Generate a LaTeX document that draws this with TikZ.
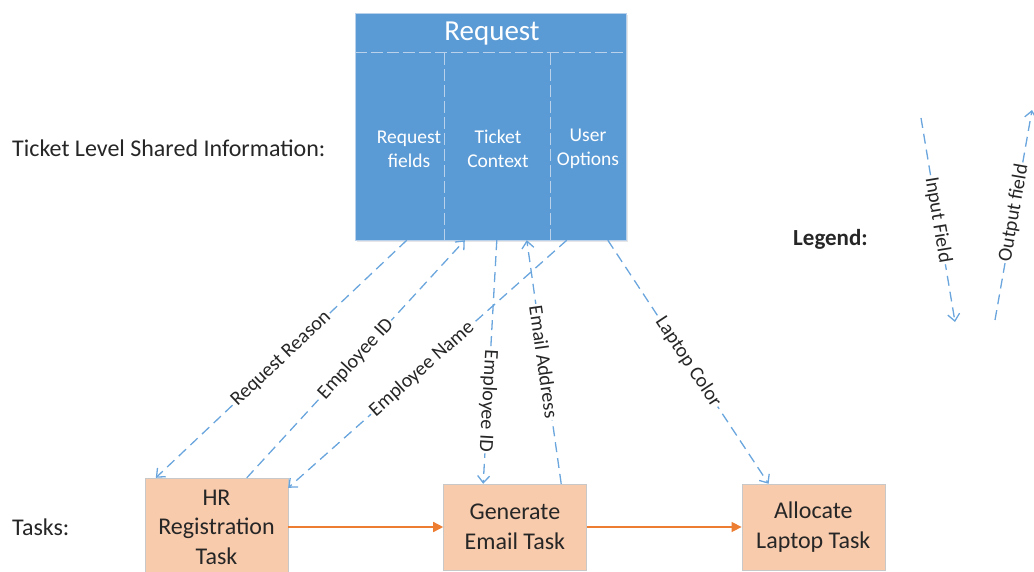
\documentclass[tikz,border=0pt]{standalone}
\usepackage{fontspec}
\setmainfont{Carlito}
\usetikzlibrary{
arrows.meta,
positioning,
shadows
}
\definecolor{TKBlue}{HTML}{5B9BD5}
\definecolor{TKLine}{HTML}{6AA6DD}
\definecolor{TKDivider}{HTML}{B9D1EA}
\definecolor{TKPeach}{HTML}{F8CBAD}
\definecolor{TKBorder}{HTML}{C8C8C8}
\definecolor{TKOrange}{HTML}{ED7D31}
\definecolor{TKText}{HTML}{262626}
\tikzset{
reqbox/.style={draw=TKDivider, fill=TKBlue, minimum width=271pt, minimum height=227pt,
  inner sep=0pt, drop shadow={opacity=0.2, shadow xshift=2pt, shadow yshift=-2pt}},
reqdivider/.style={draw=TKDivider, line width=1pt, dash pattern=on 12pt off 4pt},
reqtitle/.style={text=white, inner sep=0pt, font=\fontsize{29}{32}\selectfont},
reqfield/.style={text=white, align=center, inner sep=0pt, font=\fontsize{19.5}{24}\selectfont},
taskbox/.style={draw=TKBorder, fill=TKPeach, align=center, text=TKText, minimum width=143pt,
  inner sep=0pt, font=\fontsize{24}{29.5}\selectfont},
sidelabel/.style={text=TKText, anchor=west, inner sep=0pt, font=\fontsize{24}{28}\selectfont},
fieldarrow/.style={-{Straight Barb[length=7pt,width=12pt]}, line width=1.3pt, draw=TKLine,
  dash pattern=on 10pt off 6pt},
fieldlabel/.style={sloped, fill=white, inner sep=1.5pt, text=TKText, font=\fontsize{20}{22}\selectfont},
flowarrow/.style={-{Triangle[length=10pt,width=10pt]}, line width=1.5pt, draw=TKOrange}
}
\begin{document}
\begin{tikzpicture}[x=1pt, y=-1pt, node distance=155pt]
\useasboundingbox (0,0) rectangle (1034,571);

\node[reqbox] (req) at (490.5,126.5) {};
\draw[reqdivider] ([yshift=-40pt]req.north west) -- ([yshift=-40pt]req.north east);
\draw[reqdivider] ([xshift=90pt, yshift=-40pt]req.north west) -- ([xshift=90pt]req.south west);
\draw[reqdivider] ([xshift=196pt, yshift=-40pt]req.north west) -- ([xshift=196pt]req.south west);
\node[reqtitle] (reqtitle) at (492,34) {Request};
\node[reqfield] (fields) at (409,149) {Request\\fields};
\node[reqfield] (context) at (498,149) {Ticket\\Context};
\node[reqfield] (options) at (588,149) {User\\Options};

\node[taskbox, minimum height=98pt] (hr) at (216.5,527) {HR\\Registration\\Task};
\node[taskbox, minimum height=86pt, right=of hr] (email) {Generate\\Email Task};
\node[taskbox, minimum height=86pt, right=of email] (laptop) {Allocate\\Laptop Task};

\node[sidelabel] (shared) at (12,148) {Ticket Level Shared Information:};
\node[sidelabel] (tasks) at (12,527) {Tasks:};
\node[sidelabel, font=\fontsize{23}{28}\selectfont\bfseries] (legend) at (793,239) {Legend:};

\draw[flowarrow] (hr) -- (email);
\draw[flowarrow] (email) -- (laptop);

\draw[fieldarrow] ([xshift=52pt]req.south west) -- node[fieldlabel, pos=0.5] {Request Reason} ([xshift=11pt]hr.north west);
\draw[fieldarrow] ([xshift=102pt]hr.north west) -- node[fieldlabel, pos=0.5] {Employee ID} ([xshift=110pt]req.south west);
\draw[fieldarrow] ([xshift=212pt]req.south west) -- node[fieldlabel, pos=0.52] {Employee Name} ([yshift=-10pt]hr.north east);
\draw[fieldarrow] ([xshift=142pt]req.south west) -- node[fieldlabel, allow upside down, pos=0.66] {Employee ID} ([xshift=40pt]email.north west);
\draw[fieldarrow] ([xshift=118pt]email.north west) -- node[fieldlabel, pos=0.5] {Email Address} ([xshift=172pt]req.south west);
\draw[fieldarrow] ([xshift=253pt]req.south west) -- node[fieldlabel, pos=0.5] {Laptop Color} ([xshift=27pt]laptop.north west);

\coordinate (infrom) at (921,118);
\coordinate (into) at (955,322);
\coordinate (outfrom) at (995,320);
\coordinate (outto) at (1032,110);
\draw[fieldarrow] (infrom) -- node[fieldlabel, pos=0.5] {Input Field} (into);
\draw[fieldarrow] (outfrom) -- node[fieldlabel, pos=0.51] {Output field} (outto);
\end{tikzpicture}
\end{document}
